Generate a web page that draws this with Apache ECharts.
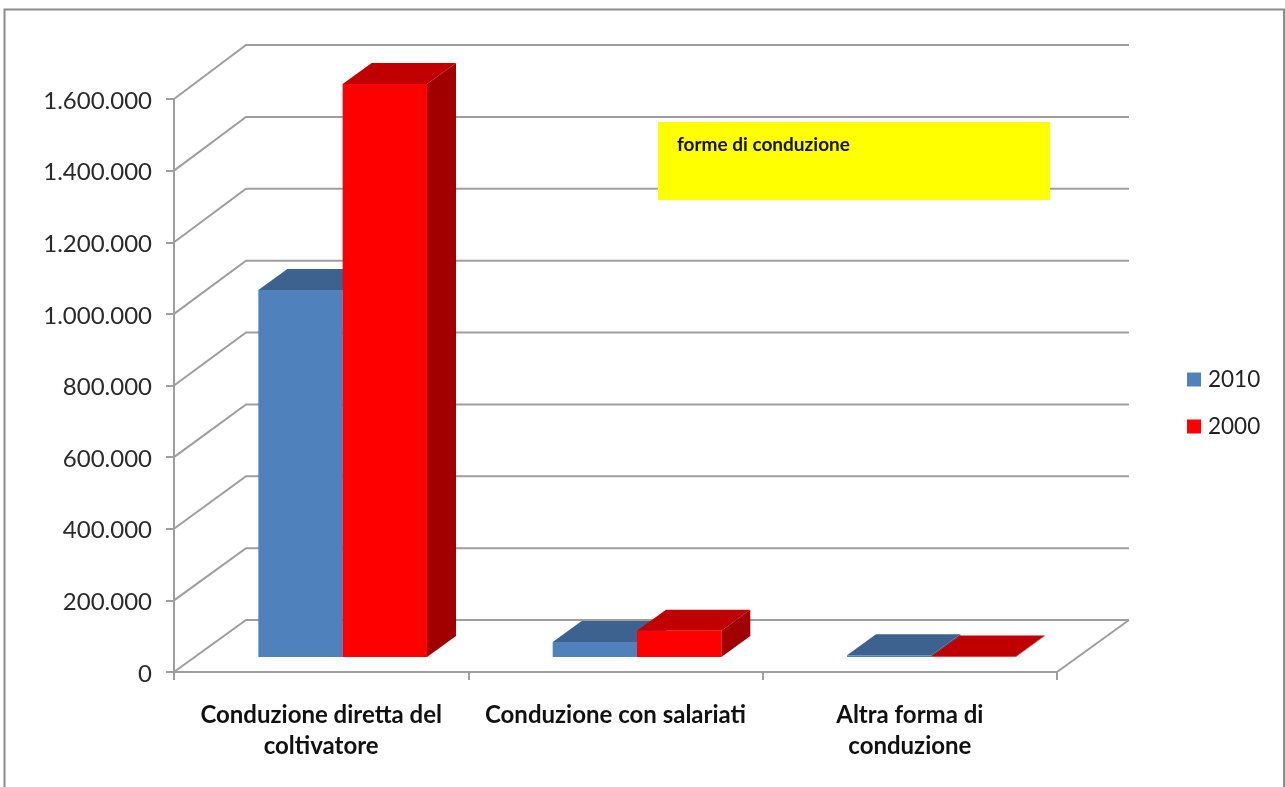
<!DOCTYPE html>
<html>
<head>
<meta charset="utf-8">
<style>html,body{margin:0;padding:0;background:#fff}#c{width:1285px;height:787px}</style>
<script src="https://cdn.jsdelivr.net/npm/echarts@6/dist/echarts.min.js"></script>
</head>
<body>
<div id="c"></div>
<script>
const categories = ['Conduzione diretta del\ncoltivatore', 'Conduzione con salariati', 'Altra forma di\nconduzione'];
const seriesNames = ['2010', '2000'];
const values2010 = [1025000, 42000, 5000];
const values2000 = [1600000, 73000, 1500];
const yTicks = [0, 200000, 400000, 600000, 800000, 1000000, 1200000, 1400000, 1600000];
const noteText = 'forme di conduzione';

const GRID = '#9e9e9e';
const Y_MAX = 1600000;
const chart = echarts.init(document.getElementById('c'), null, {renderer: 'canvas'});

function backDy(v) { return 52 + 2 * v / Y_MAX; }

function renderWall(params, api) {
  const v = api.value(0);
  const cs = params.coordSys;
  const y = api.coord([0, v])[1];
  const dy = backDy(v);
  const x0 = cs.x, x1 = cs.x + cs.width;
  const children = [{
    type: 'polyline',
    shape: {points: [[x0, y], [x0 + 72, y - dy], [x1 + 72, y - dy]]},
    style: {stroke: GRID, lineWidth: 2, fill: null}
  }];
  if (v === 0) {
    children.push({
      type: 'line',
      shape: {x1: x1, y1: y, x2: x1 + 72, y2: y - dy},
      style: {stroke: GRID, lineWidth: 2}
    });
  }
  return {type: 'group', children};
}

function barRenderer(slot, front, top, side) {
  return function (params, api) {
    const cat = api.value(0), v = api.value(1);
    const band = api.size([1, 0])[0];
    const w = band * 0.2865;
    const c = api.coord([cat, v]);
    const b = api.coord([cat, 0]);
    const x0 = c[0] + 21.5 + (slot - 1) * w;
    const x1 = x0 + w;
    const fy = b[1] - 15;
    const ty = c[1] - 15;
    const dx = 29, dy = 21;
    const children = [
      {type: 'polygon', shape: {points: [[x0, ty], [x0 + dx, ty - dy], [x1 + dx, ty - dy], [x1, ty]]}, style: {fill: top}},
      {type: 'polygon', shape: {points: [[x1, ty], [x1 + dx, ty - dy], [x1 + dx, fy - dy], [x1, fy]]}, style: {fill: side}},
      {type: 'rect', shape: {x: x0, y: ty, width: w, height: fy - ty}, style: {fill: front}}
    ];
    return {type: 'group', children};
  };
}

chart.setOption({
  animation: false,
  backgroundColor: '#ffffff',
  textStyle: {fontFamily: 'Lato'},
  grid: {left: 174, top: 99, width: 883, height: 573, containLabel: false},
  legend: {
    orient: 'vertical', left: 1182, top: 363, itemWidth: 14, itemHeight: 14, itemGap: 24,
    data: seriesNames.map(n => ({name: n, icon: 'rect'})),
    textStyle: {fontFamily: 'Lato', fontSize: 22.5, color: '#222', padding: [0, 0, 0, 2]}
  },
  xAxis: {
    type: 'category', data: categories,
    axisLine: {show: true, lineStyle: {color: GRID, width: 2}},
    axisTick: {show: true, length: 8, lineStyle: {color: GRID, width: 2}},
    axisLabel: {fontFamily: 'Lato', fontWeight: 'bold', fontSize: 24, color: '#111', lineHeight: 31, margin: 28, interval: 0},
    splitLine: {show: false}
  },
  yAxis: {
    type: 'value', min: 0, max: Y_MAX, interval: 200000,
    axisLine: {show: true, lineStyle: {color: GRID, width: 2}},
    axisTick: {show: true, length: 8, lineStyle: {color: GRID, width: 2}},
    splitLine: {show: false},
    axisLabel: {
      fontFamily: 'Lato', fontSize: 24, color: '#2a2a2a', margin: 22,
      verticalAlign: 'top', lineHeight: 24, padding: [-10, 0, 0, 0],
      formatter: v => String(v).replace(/\B(?=(\d{3})+$)/g, '.')
    }
  },
  graphic: [
    {type: 'rect', silent: true, z: -1, shape: {x: 4.5, y: 9.5, width: 1279.5, height: 790}, style: {fill: null, stroke: '#8c8c8c', lineWidth: 2}},
    {type: 'rect', z: 50, shape: {x: 658, y: 122, width: 392, height: 78}, style: {fill: '#ffff00'}},
    {type: 'text', z: 51, x: 677, y: 145, style: {text: noteText, fontFamily: 'Lato', fontWeight: 'bold', fontSize: 19, fill: '#111', verticalAlign: 'middle'}}
  ],
  series: [
    {type: 'custom', name: 'walls', silent: true, coordinateSystem: 'cartesian2d', data: yTicks.map(v => [v]), encode: {y: 0}, renderItem: renderWall, clip: false, z: 1},
    {type: 'custom', name: seriesNames[0], coordinateSystem: 'cartesian2d', itemStyle: {color: '#4f81bd'}, data: values2010.map((v, i) => [i, v]), encode: {x: 0, y: 1}, renderItem: barRenderer(0, '#4f81bd', '#3d628f', '#345479'), clip: false, z: 2},
    {type: 'custom', name: seriesNames[1], coordinateSystem: 'cartesian2d', itemStyle: {color: '#ff0000'}, data: values2000.map((v, i) => [i, v]), encode: {x: 0, y: 1}, renderItem: barRenderer(1, '#ff0000', '#c00000', '#a00000'), clip: false, z: 3}
  ]
});
</script>
</body>
</html>
